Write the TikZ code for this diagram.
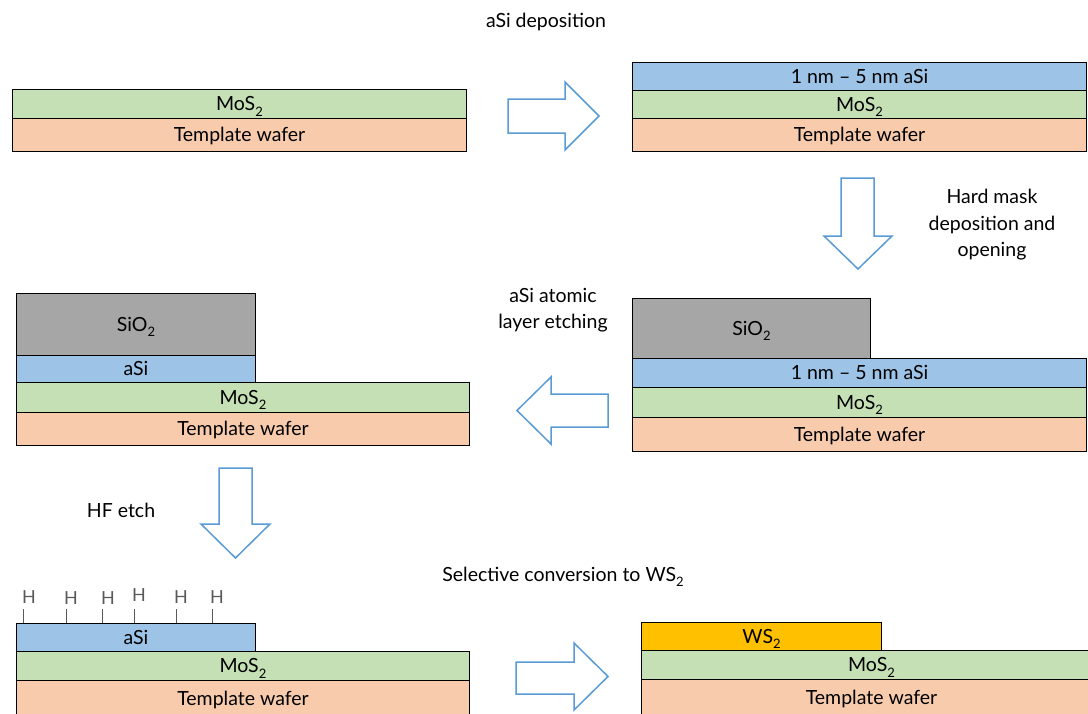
\documentclass[tikz,border=0pt]{standalone}
\usepackage{fontspec}
\setmainfont{Lato}
\definecolor{arrowblue}{HTML}{5B9BD5}
\definecolor{asiblue}{HTML}{9DC3E6}
\definecolor{mosgreen}{HTML}{C5E0B4}
\definecolor{waferc}{HTML}{F8CBAD}
\definecolor{sioc}{HTML}{A6A6A6}
\definecolor{wsc}{HTML}{FFC000}
\definecolor{hgray}{HTML}{595959}
\newcommand\lowsub[1]{\raisebox{-0.55ex}{\fontsize{13}{13}\selectfont #1}}
\begin{document}
\begin{tikzpicture}[x=1pt,y=-1pt,
  layer/.style={draw=black, line width=1pt, anchor=north west, inner sep=0pt,
    font=\fontsize{19.5}{19.5}\selectfont, text=black, text height=13.5pt, text depth=0pt},
  blockarrow/.style={draw=arrowblue, line width=1.5pt, fill=white, line join=miter},
  lbl/.style={font=\fontsize{19.5}{26.5}\selectfont, align=center, text=black, inner sep=0pt},
  hlbl/.style={font=\fontsize{18}{18}\selectfont, text=hgray, inner sep=0pt},
  tick/.style={draw=hgray, line width=1pt}]
\useasboundingbox (0,0) rectangle (1088,713);
\clip (0,0) rectangle (1088,713);
\fill[white] (0,0) rectangle (1088,713);

% ---------- step 1: top left ----------
\node[layer, fill=mosgreen, minimum width=454pt, minimum height=29pt] (s1mo) at (12,89) {MoS\lowsub{2}};
\node[layer, fill=waferc, minimum width=454pt, minimum height=33pt] (s1w) at (12,118) {Template wafer};

\node[lbl] (t1) at (546,22) {aSi deposition};
\draw[blockarrow] (508,99) -- (565,99) -- (565,82) -- (599,116) -- (565,150) -- (565,133) -- (508,133) -- cycle;

% ---------- step 2: top right ----------
\node[layer, fill=asiblue, minimum width=454pt, minimum height=28pt] (s2a) at (632,62) {1 nm – 5 nm aSi};
\node[layer, fill=mosgreen, minimum width=454pt, minimum height=28pt] (s2mo) at (632,90) {MoS\lowsub{2}};
\node[layer, fill=waferc, minimum width=454pt, minimum height=33pt] (s2w) at (632,118) {Template wafer};

\draw[blockarrow] (841,178) -- (874,178) -- (874,236) -- (892,236) -- (858,269) -- (824,236) -- (841,236) -- cycle;
\node[lbl] (t2) at (992,225) {Hard mask\\deposition and\\opening};

% ---------- step 3: middle right ----------
\node[layer, fill=sioc, minimum width=238pt, minimum height=60pt] (s3s) at (632,298) {SiO\lowsub{2}};
\node[layer, fill=asiblue, minimum width=454pt, minimum height=29pt] (s3a) at (632,358) {1 nm – 5 nm aSi};
\node[layer, fill=mosgreen, minimum width=454pt, minimum height=30pt] (s3mo) at (632,387) {MoS\lowsub{2}};
\node[layer, fill=waferc, minimum width=454pt, minimum height=34pt] (s3w) at (632,417) {Template wafer};

\node[lbl] (t3) at (553,310) {aSi atomic\\layer etching};
\draw[blockarrow] (608,394) -- (551,394) -- (551,377) -- (517,410.5) -- (551,444) -- (551,427) -- (608,427) -- cycle;

% ---------- step 4: middle left ----------
\node[layer, fill=sioc, minimum width=239pt, minimum height=62pt] (s4s) at (16,293) {SiO\lowsub{2}};
\node[layer, fill=asiblue, minimum width=239pt, minimum height=27pt] (s4a) at (16,355) {aSi};
\node[layer, fill=mosgreen, minimum width=453pt, minimum height=30pt] (s4mo) at (16,382) {MoS\lowsub{2}};
\node[layer, fill=waferc, minimum width=453pt, minimum height=33pt] (s4w) at (16,412) {Template wafer};

\draw[blockarrow] (219,468) -- (252,468) -- (252,524) -- (270,524) -- (235.5,558) -- (201,524) -- (219,524) -- cycle;
\node[lbl] (t4) at (121,510) {HF etch};

% ---------- step 5: bottom left ----------
\node[layer, fill=asiblue, minimum width=239pt, minimum height=28pt] (s5a) at (16,623) {aSi};
\node[layer, fill=mosgreen, minimum width=453pt, minimum height=29pt] (s5mo) at (16,651) {MoS\lowsub{2}};
\node[layer, fill=waferc, minimum width=453pt, minimum height=36pt] (s5w) at (16,680) {Template wafer};

\foreach \i/\tx/\hx/\hy in {1/23/29/597, 2/66/71/598, 3/102/108/598, 4/134/139/595, 5/176/181/597, 6/212/217/597} {
  \node[hlbl] (h\i) at (\hx,\hy) {H};
  \coordinate (ht\i) at (\tx,609);
  \coordinate (hb\i) at (\tx,623);
  \draw[tick] (ht\i) -- (hb\i);
}

\node[lbl] (t5) at (563,577) {Selective conversion to WS\lowsub{2}};
\draw[blockarrow] (516,662) -- (574,662) -- (574,643) -- (608,676.5) -- (574,710) -- (574,694) -- (516,694) -- cycle;

% ---------- step 6: bottom right ----------
\node[layer, fill=wsc, minimum width=240pt, minimum height=28pt] (s6ws) at (641,622) {WS\lowsub{2}};
\node[layer, fill=mosgreen, minimum width=460pt, minimum height=29pt] (s6mo) at (641,650) {MoS\lowsub{2}};
\node[layer, fill=waferc, minimum width=460pt, minimum height=37pt] (s6w) at (641,679) {Template wafer};
\end{tikzpicture}
\end{document}
